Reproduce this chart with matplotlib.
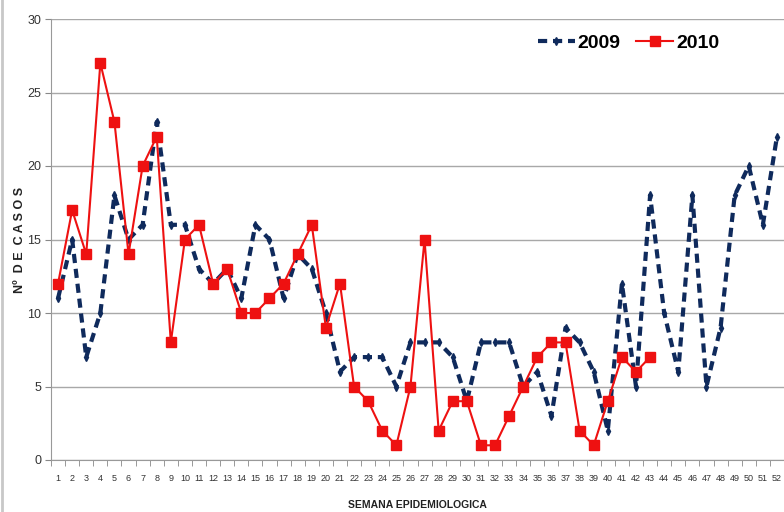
import numpy as np
import matplotlib.pyplot as plt
from matplotlib.ticker import FixedLocator

semanas = list(range(1, 53))
casos_2009 = [11, 15, 7, 10, 18, 15, 16, 23, 16, 16, 13, 12, 13, 11, 16, 15, 11, 14, 13, 10,
              6, 7, 7, 7, 5, 8, 8, 8, 7, 4, 8, 8, 8, 5, 6, 3, 9, 8, 6, 2,
              12, 5, 18, 10, 6, 18, 5, 9, 18, 20, 16, 22]
casos_2010 = [12, 17, 14, 27, 23, 14, 20, 22, 8, 15, 16, 12, 13, 10, 10, 11, 12, 14, 16, 9,
              12, 5, 4, 2, 1, 5, 15, 2, 4, 4, 1, 1, 3, 5, 7, 8, 8, 2, 1, 4,
              7, 6, 7]
yticks = [0, 5, 10, 15, 20, 25, 30]

plt.rcParams['font.family'] = ['Liberation Sans', 'DejaVu Sans']

fig = plt.figure(figsize=(7.84, 5.12), dpi=100)
ax = fig.add_axes([51 / 784, 1 - 460 / 512, 1 - 51 / 784, (460 - 19) / 512])

# moldura cinza a esquerda
fig.add_artist(plt.Line2D([0.003, 0.003], [0, 1], color='#c8c8c8', lw=2, transform=fig.transFigure))

ax.plot(semanas, casos_2009, color='#0f2a5c', lw=3, ls=(0, (2.2, 1.4)),
        marker='d', ms=4, label='2009', zorder=3)
ax.plot(semanas[:len(casos_2010)], casos_2010, color='#ee1111', lw=1.5,
        marker='s', ms=7.5, label='2010', zorder=4)

ax.set_xlim(0.5, 52.5)
ax.set_ylim(0, 30)
ax.set_yticks(yticks)
ax.set_xticks(semanas)
ax.xaxis.set_minor_locator(FixedLocator(np.arange(0.5, 53, 1)))
ax.tick_params(axis='x', which='major', length=0, labelsize=6.5, pad=10, colors='#333333')
ax.tick_params(axis='x', which='minor', length=4, color='#888888', direction='out')
ax.tick_params(axis='y', length=4, color='#888888', labelsize=9, colors='#333333', pad=3)
ax.yaxis.grid(True, color='#a8a8a8', lw=1)
ax.set_axisbelow(True)
for s in ['top', 'right']:
    ax.spines[s].set_visible(False)
for s in ['left', 'bottom']:
    ax.spines[s].set_color('#999999')

ax.set_ylabel('N\u00ba  D E  C A S O S', fontsize=9, fontweight='bold', color='#222222')
ax.yaxis.set_label_coords(-25 / 733, 0.5)
ax.set_xlabel('SEMANA EPIDEMIOLOGICA', fontsize=7.5, fontweight='bold', labelpad=12, color='#222222')

leg = ax.legend(loc='upper left', bbox_to_anchor=(0.64, 1.005), ncol=2, frameon=False,
                fontsize=14, handlelength=1.9, columnspacing=0.8, handletextpad=0.15)
for t in leg.get_texts():
    t.set_fontweight('bold')

fig.savefig('out.png', dpi=100)
